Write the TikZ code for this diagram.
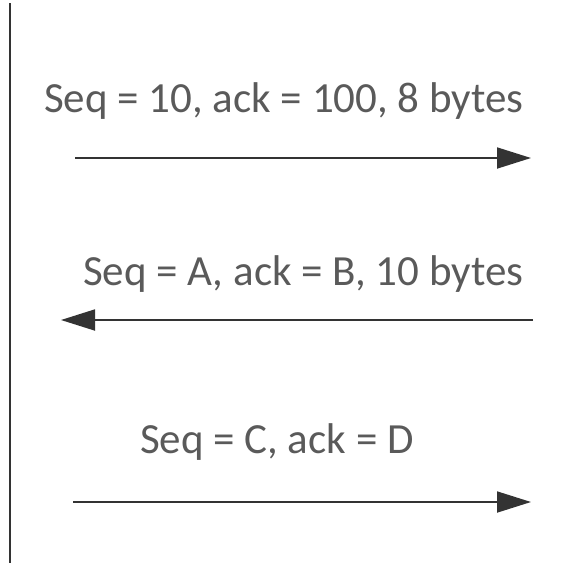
\documentclass[tikz,border=0pt]{standalone}
\usepackage{fontspec}
\setmainfont{Carlito}
\usetikzlibrary{arrows.meta}
\definecolor{txt}{HTML}{5A5A5A}
\definecolor{ln}{HTML}{333333}
\tikzset{
  lbl/.style={anchor=base west, inner sep=0pt, text=txt, font=\fontsize{43}{48}\selectfont},
  msg/.style={draw=ln, line width=1.8pt, -{Triangle[length=34pt,width=21pt]}},
  life/.style={draw=ln, line width=2.6pt}
}
\begin{document}
\begin{tikzpicture}[x=1pt,y=-1pt]
\useasboundingbox (0,0) rectangle (575,565);
\coordinate (lt) at (10,3);
\coordinate (lb) at (10,563);
\draw[life] (lt) -- (lb);
\node[lbl] (t1) at (44,112) {Seq = 10, ack = 100, 8 bytes};
\coordinate (a1s) at (75,158);
\coordinate (a1e) at (531,158);
\draw[msg] (a1s) -- (a1e);
\node[lbl] (t2) at (83,285) {Seq = A, ack = B, 10 bytes};
\coordinate (a2s) at (533,320);
\coordinate (a2e) at (61,320);
\draw[msg] (a2s) -- (a2e);
\node[lbl] (t3) at (140,453) {Seq = C, ack = D};
\coordinate (a3s) at (73,502);
\coordinate (a3e) at (531,502);
\draw[msg] (a3s) -- (a3e);
\end{tikzpicture}
\end{document}
